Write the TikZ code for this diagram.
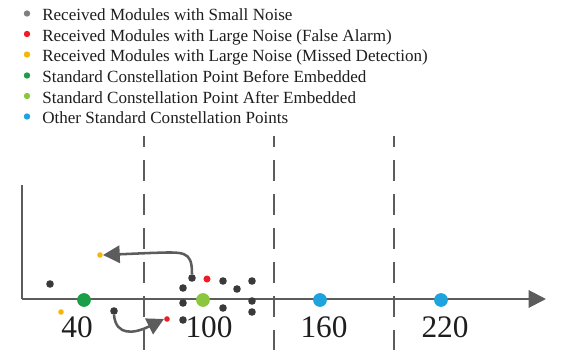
\documentclass[tikz,border=0pt]{standalone}
\usepackage{fontspec}
\setmainfont{Liberation Serif}
\usetikzlibrary{arrows.meta}
\definecolor{dotgray}{HTML}{3A3A3A}
\definecolor{leggray}{HTML}{7F7F7F}
\definecolor{ptred}{HTML}{EE1C25}
\definecolor{ptyellow}{HTML}{F5B60C}
\definecolor{ptgreen}{HTML}{1A9E48}
\definecolor{ptlgreen}{HTML}{8CC63F}
\definecolor{ptblue}{HTML}{1FA3DF}
\definecolor{linegray}{HTML}{5C5C5C}
\definecolor{txt}{HTML}{1E1E1E}
\tikzset{
  dot/.style={circle, fill=dotgray, inner sep=0pt, minimum size=5.7pt},
  reddot/.style={circle, fill=ptred, inner sep=0pt, minimum size=5.3pt},
  reddotsm/.style={circle, fill=ptred, inner sep=0pt, minimum size=4.2pt},
  yeldot/.style={circle, fill=ptyellow, inner sep=0pt, minimum size=4.2pt},
  bigdot/.style={circle, inner sep=0pt, minimum size=10.3pt},
  legbullet/.style={circle, inner sep=0pt, minimum size=4.8pt},
  legtext/.style={anchor=base west, inner sep=0pt, text=txt, font=\fontsize{12.8}{14}\selectfont},
  ticklabel/.style={anchor=base, inner sep=0pt, text=txt, font=\fontsize{23.5}{26}\selectfont},
  divider/.style={draw=linegray, line width=1.9pt, dash pattern=on 15.75pt off 9.75pt, dash phase=7.5pt},
  axisline/.style={draw=linegray, line width=1.5pt},
  bentarrow/.style={draw=linegray, line width=1.9pt, -{Triangle[length=12.5pt, width=13pt]}},
}
\begin{document}
\begin{tikzpicture}[x=0.75pt, y=-0.75pt]
\useasboundingbox (0,0) rectangle (571,363);

% legend
\node[legbullet, fill=leggray]   (lb1) at (27,13.5) {};
\node[legbullet, fill=ptred]     (lb2) at (27,34) {};
\node[legbullet, fill=ptyellow]  (lb3) at (27,54.5) {};
\node[legbullet, fill=ptgreen]   (lb4) at (27,75.5) {};
\node[legbullet, fill=ptlgreen]  (lb5) at (27,96) {};
\node[legbullet, fill=ptblue]    (lb6) at (27,116.5) {};
\node[legtext] (lt1) at (42,21) {Received Modules with Small Noise};
\node[legtext] (lt2) at (42,41.5) {Received Modules with Large Noise (False Alarm)};
\node[legtext] (lt3) at (42,62) {Received Modules with Large Noise (Missed Detection)};
\node[legtext] (lt4) at (42,83) {Standard Constellation Point Before Embedded};
\node[legtext] (lt5) at (42,103.5) {Standard Constellation Point After Embedded};
\node[legtext] (lt6) at (42,124) {Other Standard Constellation Points};

% dividers
\coordinate (v1t) at (144,136); \coordinate (v1b) at (144,350);
\coordinate (v2t) at (274,136); \coordinate (v2b) at (274,350);
\coordinate (v3t) at (394,136); \coordinate (v3b) at (394,350);
\path[divider] (v1t) -- (v1b);
\path[divider] (v2t) -- (v2b);
\path[divider] (v3t) -- (v3b);

% axes
\coordinate (ytop) at (22,185);
\coordinate (orig) at (22,299);
\coordinate (xend) at (546,299);
\path[axisline] (ytop) -- (orig);
\draw[axisline, -{Triangle[length=13pt, width=13pt]}] (orig) -- (xend);

% standard points
\node[bigdot, fill=ptgreen]  (p40)  at (84,300) {};
\node[bigdot, fill=ptlgreen] (p100) at (203,300) {};
\node[bigdot, fill=ptblue]   (p160) at (320,300) {};
\node[bigdot, fill=ptblue]   (p220) at (441,300) {};

% received points
\node[dot] (a1) at (50,284) {};
\node[dot] (a2) at (114,311) {};
\node[dot] (a3) at (192,278) {};
\node[reddot] (r1) at (207,279) {};
\node[dot] (a4) at (223,281) {};
\node[dot] (a5) at (252,281) {};
\node[dot] (a6) at (183,288) {};
\node[dot] (a7) at (237,289) {};
\node[dot] (a8) at (183,303) {};
\node[dot] (a9) at (252,301) {};
\node[dot] (a10) at (223,308) {};
\node[dot] (a11) at (252,312) {};
\node[dot] (a12) at (183,320) {};
\node[reddotsm] (r2) at (167,319) {};
\node[yeldot] (y1) at (61,312) {};
\node[yeldot] (y2) at (100,255) {};

% arrows
\draw[bentarrow] (a3.north) .. controls (192,250) and (184,252) .. (150,253) -- (y2.east);
\draw[bentarrow] (a2.south) .. controls (116,336) and (134,334) .. (r2.west);

% tick labels
\node[ticklabel] (t40)  at (77,337.5) {40};
\node[ticklabel] (t100) at (209,337.5) {100};
\node[ticklabel] (t160) at (324,337.5) {160};
\node[ticklabel] (t220) at (445,337.5) {220};
\end{tikzpicture}
\end{document}
